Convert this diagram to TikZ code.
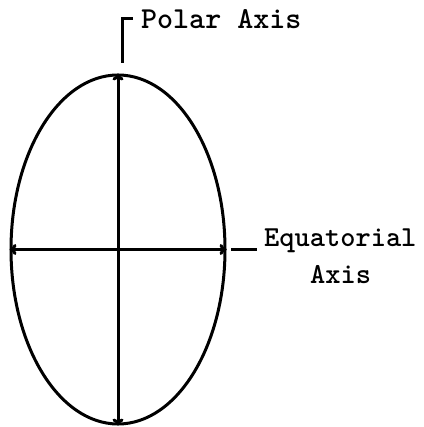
\documentclass[tikz,border=0pt]{standalone}
\usetikzlibrary{shapes.geometric,arrows.meta}
\begin{document}
\begin{tikzpicture}[x=1pt,y=-1pt,
  ink/.style={line width=3pt,black},
  axisarrow/.style={ink,{To[length=7pt,width=11pt]}-{To[length=7pt,width=11pt]}},
  lbl/.style={font=\ttfamily\bfseries\fontsize{30.5}{35}\selectfont,inner sep=0pt,anchor=base west},
  lblsm/.style={lbl,font=\ttfamily\bfseries\fontsize{29}{34}\selectfont}]
\useasboundingbox (0,0) rectangle (423,427);
\node[ink,draw,ellipse,minimum width=214pt,minimum height=349pt,inner sep=0pt] (ell) at (118,249.5) {};
\draw[axisarrow] (ell.north) -- (ell.south);
\draw[axisarrow] (ell.west) -- (ell.east);
\node[lbl] (polar) at (141,29) {Polar Axis};
\node[lblsm] (equat) at (264,246) {Equatorial};
\node[lblsm] (axis2) at (310,283) {Axis};
\coordinate (pbot) at (122,63);
\coordinate (ptop) at (133,19);
\draw[ink] (pbot) |- (ptop);
\coordinate (eqa) at (231,249);
\coordinate (eqb) at (257,249);
\draw[ink] (eqa) -- (eqb);
\end{tikzpicture}
\end{document}
